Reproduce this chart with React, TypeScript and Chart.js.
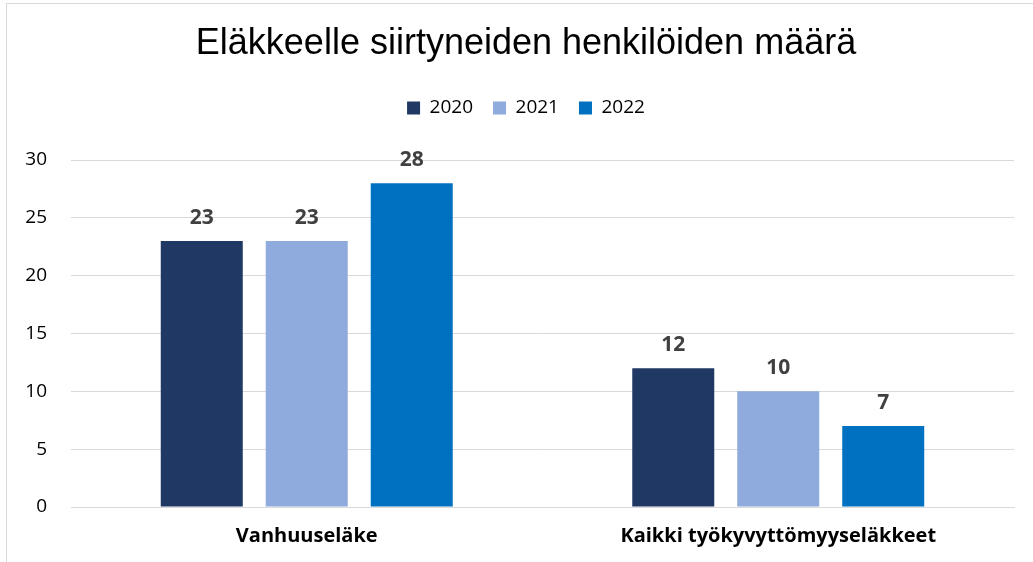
import React, { useEffect, useRef } from "react";
import { Chart, registerables } from "chart.js";

Chart.register(...registerables);

const categories = ["Vanhuuseläke", "Kaikki työkyvyttömyyseläkkeet"];
const seriesLabels = ["2020", "2021", "2022"];
const values2020 = [23, 12];
const values2021 = [23, 10];
const values2022 = [28, 7];
const seriesColors = ["#203864", "#8FAADC", "#0070C0"];
const yMin = 0;
const yMax = 30;
const yStep = 5;
const chartTitle = "Eläkkeelle siirtyneiden henkilöiden määrä";

const W = 1033;
const H = 562;
const CANVAS_W = 1052;

const valueLabelPlugin = {
  id: "valueLabels",
  afterDatasetsDraw(chart: any) {
    const ctx = chart.ctx;
    ctx.save();
    ctx.font = 'bold 21px "Open Sans"';
    ctx.fillStyle = "#404040";
    ctx.textAlign = "center";
    ctx.textBaseline = "alphabetic";
    chart.data.datasets.forEach((ds: any, i: number) => {
      const meta = chart.getDatasetMeta(i);
      meta.data.forEach((bar: any, j: number) => {
        ctx.fillText(String(ds.data[j]), bar.x, bar.y - 17);
      });
    });
    ctx.restore();
  },
};

export default function App() {
  const canvasRef = useRef<HTMLCanvasElement | null>(null);

  useEffect(() => {
    document.body.style.margin = "0";
    document.body.style.overflow = "hidden";
    let chart: Chart | null = null;
    let cancelled = false;
    const make = () => {
      if (cancelled || !canvasRef.current) return;
      const allSeries = [values2020, values2021, values2022];
      chart = new Chart(canvasRef.current, {
        type: "bar",
        data: {
          labels: categories,
          datasets: allSeries.map((d, i) => ({
            label: seriesLabels[i],
            data: d,
            backgroundColor: seriesColors[i],
            borderWidth: 0,
            categoryPercentage: 0.668,
            barPercentage: 0.781,
          })),
        },
        options: {
          responsive: false,
          animation: false,
          layout: { padding: { left: 0, right: 0, top: 0, bottom: 0 } },
          plugins: {
            title: {
              display: true,
              text: chartTitle,
              color: "#000000",
              font: { family: '"Liberation Sans", Arial, sans-serif', size: 36, weight: "normal", lineHeight: 1 },
              padding: { top: 26, bottom: 16.5 },
            },
            legend: {
              display: true,
              position: "top",
              labels: {
                boxWidth: 13,
                boxHeight: 13,
                padding: 20,
                color: "#000000",
                font: { family: '"Open Sans"', size: 19 },
              },
            },
            tooltip: { enabled: false },
          },
          scales: {
            x: {
              position: "bottom",
              grid: { display: false },
              border: { display: true, color: "#D9D9D9", width: 1 },
              ticks: {
                color: "#000000",
                padding: 9,
                font: { family: '"Open Sans"', size: 20, weight: "bold" },
              },
              afterFit: (s: any) => {
                s.height = 55;
              },
            },
            xTop: {
              type: "category",
              position: "top",
              display: true,
              grid: { display: false },
              border: { display: false },
              ticks: { display: false },
              afterFit: (s: any) => {
                s.height = 32.5;
              },
            },
            y: {
              min: yMin,
              max: yMax,
              grid: { color: "#D9D9D9", lineWidth: 1, drawTicks: false },
              border: { display: false },
              ticks: {
                stepSize: yStep,
                color: "#000000",
                padding: 24,
                font: { family: '"Open Sans"', size: 19 },
              },
              afterFit: (s: any) => {
                s.width = 71;
              },
            },
            yRight: {
              type: "linear",
              position: "right",
              display: true,
              min: yMin,
              max: yMax,
              grid: { display: false },
              border: { display: false },
              ticks: { display: false },
              afterFit: (s: any) => {
                s.width = CANVAS_W - 1014;
              },
            },
          },
        },
        plugins: [valueLabelPlugin],
      } as any);
    };
    const fontsApi = (document as any).fonts;
    if (fontsApi && fontsApi.load) {
      Promise.all([
        fontsApi.load('19px "Open Sans"'),
        fontsApi.load('bold 20px "Open Sans"'),
        fontsApi.load('36px "Liberation Sans"'),
      ])
        .catch(() => null)
        .then(make);
    } else {
      make();
    }
    return () => {
      cancelled = true;
      if (chart) chart.destroy();
    };
  }, []);

  return (
    <div
      style={{
        position: "fixed",
        left: 0,
        top: 0,
        width: W,
        height: H,
        overflow: "hidden",
        background: "#ffffff",
      }}
    >
      <div
        style={{
          position: "absolute",
          left: 6,
          top: 3,
          width: 1100,
          height: 650,
          borderLeft: "1px solid #D9D9D9",
          borderTop: "1px solid #D9D9D9",
        }}
      />
      <canvas
        ref={canvasRef}
        width={CANVAS_W}
        height={H}
        style={{ position: "absolute", left: 0, top: 0, width: CANVAS_W, height: H }}
      />
    </div>
  );
}
